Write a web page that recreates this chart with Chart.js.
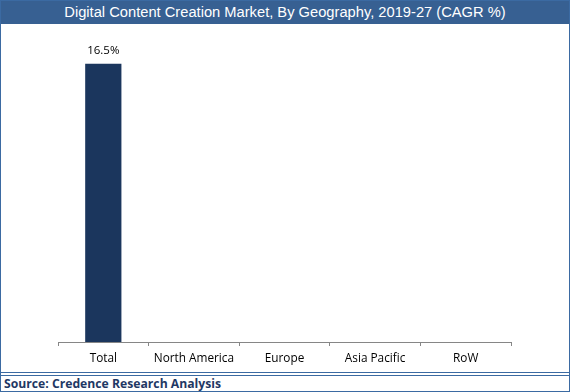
<!DOCTYPE html>
<html>
<head>
<meta charset="utf-8">
<script src="https://cdn.jsdelivr.net/npm/chart.js@4/dist/chart.umd.min.js"></script>
<style>
  html, body { margin: 0; padding: 0; background: #fff; }
  #frame {
    position: relative;
    width: 568px;
    height: 390px;
    border: 1px solid #3b6aa2;
    overflow: hidden;
  }
  #title {
    position: absolute; left: 0; top: 0; width: 568px; height: 23px;
    background: #376092;
    color: #fff;
    font: 14.7px "Liberation Sans", Arial, sans-serif;
    text-align: center;
    line-height: 23px;
  }
  #plot { position: absolute; left: 0; top: 23px; width: 568px; height: 348px; }
  #footer {
    position: absolute; left: 0; top: 371px; width: 568px; height: 19px;
    border-top: 1px solid #3b6aa2;
  }
  #footer .line2 {
    position: absolute; left: 0; top: 2px; width: 568px; height: 0;
    border-top: 1px solid #3b6aa2;
  }
  #footer span {
    position: absolute; left: 3px; top: 2px;
    font: bold 12.2px "Open Sans", sans-serif;
    color: #1f3864;
  }
</style>
</head>
<body>
<div id="frame">
  <div id="title">Digital Content Creation Market, By Geography, 2019-27 (CAGR %)</div>
  <div id="plot"><canvas id="chart"></canvas></div>
  <div id="footer"><div class="line2"></div><span>Source: Credence Research Analysis</span></div>
</div>
<script>
const categories = ['Total', 'North America', 'Europe', 'Asia Pacific', 'RoW'];
const cagr = [16.5, null, null, null, null];
const labelsText = ['16.5%', '', '', '', ''];

// draw the value label above each bar
const valueLabels = {
  id: 'valueLabels',
  afterDatasetsDraw(chart) {
    const ctx = chart.ctx;
    const meta = chart.getDatasetMeta(0);
    ctx.save();
    ctx.font = '11.5px "Open Sans", sans-serif';
    ctx.fillStyle = '#000';
    ctx.textAlign = 'center';
    ctx.textBaseline = 'middle';
    meta.data.forEach((bar, i) => {
      if (cagr[i] == null) return;
      ctx.fillText(labelsText[i], bar.x, bar.y - 13);
    });
    ctx.restore();
  }
};

new Chart(document.getElementById('chart'), {
  type: 'bar',
  data: {
    labels: categories,
    datasets: [{
      label: 'CAGR %',
      data: cagr,
      backgroundColor: '#1b365d',
      barPercentage: 0.4,
      categoryPercentage: 1.0
    }]
  },
  options: {
    responsive: true,
    maintainAspectRatio: false,
    animation: false,
    layout: { padding: { left: 57, right: 58, top: 17, bottom: 0 } },
    plugins: {
      legend: { display: false },
      tooltip: { enabled: false }
    },
    scales: {
      x: {
        grid: {
          offset: true,
          drawOnChartArea: false,
          tickLength: 4,
          color: '#868686'
        },
        border: { color: '#868686' },
        ticks: {
          color: '#000',
          padding: 6,
          font: { family: 'Open Sans', size: 11.8 }
        },
        afterFit(scale) { scale.height = 30; }
      },
      y: {
        display: false,
        min: 0,
        max: 17.85
      }
    }
  },
  plugins: [valueLabels]
});
</script>
</body>
</html>
